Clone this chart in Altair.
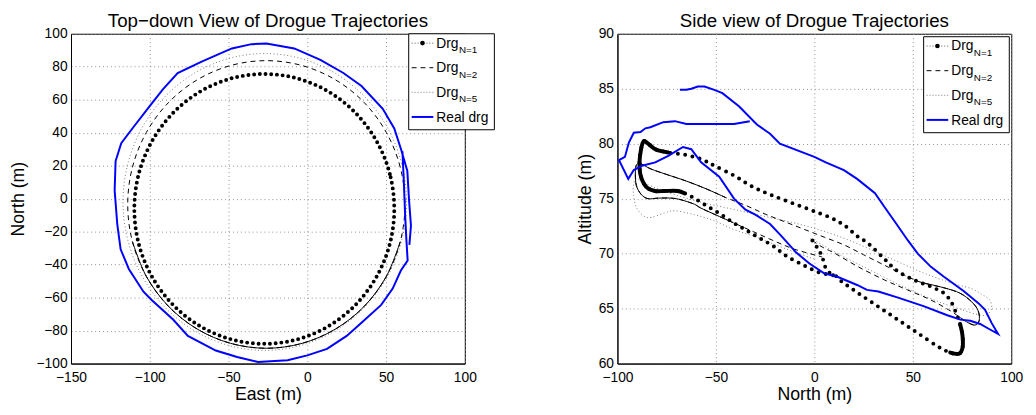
import altair as alt
import pandas as pd

# ---------------- Left panel: top-down view (East vs North) ----------------
N1_TOP_E = [55.2, 52.4, 44.1, 31.0, 14.0, -5.9, -27.3, -48.7, -68.6, -85.6, -98.7, -107.0,
            -109.8, -107.0, -98.7, -85.6, -68.6, -48.7, -27.3, -5.9, 14.0, 31.0, 44.1, 52.4]
N1_TOP_N = [-6.2, 15.0, 34.7, 51.6, 64.6, 72.8, 75.6, 72.8, 64.6, 51.6, 34.7, 15.0,
            -6.2, -27.4, -47.1, -64.0, -77.0, -85.2, -88.0, -85.2, -77.0, -64.0, -47.1, -27.4]

N2_TOP_E = [62.0, 59.0, 50.2, 36.2, 18.0, -3.2, -26.0, -48.8, -70.0, -88.2, -102.2, -111.0,
            -114.0, -111.0, -102.2, -88.2, -70.0, -48.8, -26.0, -3.2, 18.0, 36.2, 50.2, 59.0]
N2_TOP_N = [-3.5, 19.1, 40.1, 58.2, 72.0, 80.7, 83.7, 80.7, 72.0, 58.2, 40.1, 19.1,
            -3.5, -26.1, -47.1, -65.2, -79.0, -87.7, -90.7, -87.7, -79.0, -65.2, -47.1, -26.1]
N2_TOP_SOLID = (13, 24)   # part of the N=2 ring that renders as a solid line

N5_TOP_E = [63.0, 59.9, 50.9, 36.6, 18.0, -3.7, -27.0, -50.3, -72.0, -90.6, -104.9, -113.9,
            -117.0, -113.9, -104.9, -90.6, -72.0, -50.3, -27.0, -3.7, 18.0, 36.6, 50.9, 59.9]
N5_TOP_N = [-2.0, 21.3, 43.0, 61.6, 75.9, 84.9, 88.0, 84.9, 75.9, 61.6, 43.0, 21.3,
            -2.0, -25.3, -47.0, -65.6, -79.9, -88.9, -92.0, -88.9, -79.9, -65.6, -47.0, -25.3]

REAL_TOP_E = [60.4, 61.3, 62.1, 62.9, 63.7, 59.4, 54.2, 46.9, 34.4, 25.0, 12.5, 0.0, -12.5,
              -31.3, -44.6, -58.1, -75.8, -85.2, -98.8, -104.0, -113.3, -118.5, -120.6,
              -122.3, -121.7, -118.1, -110.2, -99.8, -91.7, -82.3, -66.7, -47.9, -35.4,
              -26.0, -8.3, 8.3, 22.9, 34.4, 47.9, 55.2, 59.5, 63.5, 64.6, 65.8, 64.8]
REAL_TOP_N = [28.7, 10.0, -10.0, -25.0, -37.5, -43.6, -54.5, -64.4, -75.2, -83.2, -91.1, -95.0,
              -98.0, -99.0, -96.0, -92.1, -83.2, -73.3, -61.4, -56.4, -42.6, -30.7, -15.8,
              5.0, 22.8, 33.7, 43.6, 56.4, 66.3, 76.2, 83.2, 91.1, 93.7, 94.1, 91.1, 84.2,
              76.2, 68.3, 54.5, 42.6, 30.0, 16.8, -1.0, -16.4, -28.0]

# ---------------- Right panel: side view (North vs Altitude) ----------------
N1_SIDE_N = [-1.0, 2.0, 4.0, 5.5, 7.5, 10.7, 14.0, 22.3, 32.3, 42.3, 52.3, 62.3, 69.0, 73.5,
             75.3, 75.2, 74.0, 72.0, 69.5, 65.8, 59.2, 50.8, 42.3, 35.7, 27.5, 21.7, 15.8,
             9.2, 0.0, -14.2, -24.2, -32.5, -40.8, -50.8, -57.5, -65.8, -74.2, -80.8, -85.0,
             -86.8, -88.0, -88.8, -88.2, -85.5, -81.0, -76.0, -69.5, -66.0, -61.0, -54.3,
             -47.7, -41.0, -34.3, -27.7, -21.0, -14.3, -6.0, 2.3, 10.7]
N1_SIDE_ALT = [71.2, 70.4, 69.7, 68.8, 68.3, 68.0, 67.45, 66.4, 65.2, 64.0, 62.8, 61.6, 61.0,
               60.9, 61.5, 62.6, 63.6, 64.6, 65.6, 66.4, 67.0, 67.6, 68.4, 69.5, 70.9, 71.6,
               72.5, 73.2, 73.85, 74.8, 75.5, 76.2, 77.1, 78.0, 78.6, 79.0, 79.2, 79.5, 80.1,
               80.2, 79.5, 78.3, 77.1, 76.1, 75.7, 75.7, 75.7, 75.5, 75.05, 74.3, 73.6, 72.8,
               72.1, 71.4, 70.7, 69.8, 69.0, 68.3, 68.0]
N1_SIDE_DENSE = [(12, 17), (36, 48)]   # slow parts where the markers merge into a thick line

N2_SIDE_N = [-1.0, 4.0, 10.7, 22.3, 35.7, 47.3, 59.0, 69.0, 74.0, 77.3, 81.5, 83.7, 83.2,
             80.0, 74.0, 65.7, 54.0, 44.0, 35.0, 25.0, 15.0, 5.0, -5.0, -15.0, -25.0, -35.0,
             -45.0, -55.0, -65.0, -75.0, -83.0, -88.5, -90.5, -90.9, -90.4, -88.0, -84.5,
             -79.3, -72.7, -67.7, -61.0, -57.7, -51.0, -41.0, -31.0, -21.0, -10.0, 4.0]
N2_SIDE_ALT = [71.2, 70.6, 70.0, 68.8, 67.6, 66.7, 65.8, 64.8, 64.2, 63.8, 63.5, 63.9, 64.8,
               65.6, 66.4, 66.9, 67.4, 68.2, 69.0, 69.9, 70.8, 71.5, 72.2, 72.9, 73.6, 74.4,
               75.1, 75.9, 76.6, 77.2, 77.7, 78.2, 78.0, 77.2, 76.2, 75.4, 75.0, 75.05, 75.05,
               74.9, 74.5, 74.15, 73.6, 72.8, 72.0, 71.2, 70.4, 69.7]
N2_SIDE_SOLID = [(8, 17), (26, 44)]   # parts of N=2 that render as a solid line

N5_SIDE_N = [-2.0, 5.0, 15.0, 25.0, 35.0, 45.0, 55.0, 65.0, 75.0, 82.0, 87.0, 90.0, 89.0,
             85.0, 80.0, 72.0, 62.0, 52.0, 42.0, 32.0, 22.0, 12.0, 2.0, -8.0, -18.0, -28.0,
             -38.0, -48.0, -58.0, -68.0, -78.0, -86.0, -90.3, -91.8, -91.8, -90.2, -86.5,
             -82.7, -76.0, -71.0, -61.0, -51.0, -41.0, -31.0, -21.0, -11.0, 0.0]
N5_SIDE_ALT = [71.4, 70.7, 69.7, 68.8, 67.9, 67.0, 66.2, 65.5, 64.9, 64.5, 64.4, 65.0, 65.8,
               66.3, 66.8, 67.2, 67.8, 68.5, 69.3, 70.1, 70.9, 71.6, 72.2, 72.7, 73.1, 73.5,
               73.9, 74.3, 74.7, 75.2, 75.8, 76.4, 76.8, 76.3, 75.3, 74.15, 73.4, 73.3, 73.7,
               73.9, 73.55, 73.0, 72.2, 71.6, 70.9, 70.2, 69.5]

REAL_SIDE_N = [-68.3, -65.0, -62.5, -59.2, -55.8, -50.8, -46.7, -38.3, -29.2, -22.5, -17.5,
               0.0, 5.8, 15.0, 21.7, 30.8, 35.8, 41.7, 47.5, 52.5, 59.2, 65.8, 75.8, 83.3,
               86.7, 90.0, 93.3, 89.2, 84.2, 79.2, 74.2, 67.5, 55.8, 42.5, 32.5, 26.7, 21.7,
               11.7, 5.0, -2.5, -9.2, -16.7, -22.5, -30.0, -35.0, -40.8, -48.3, -57.5, -62.5,
               -66.7, -74.2, -80.8, -87.5, -91.7, -94.5, -99.2, -98.3, -96.2, -94.2, -91.7,
               -88.3, -85.8, -83.3, -76.7, -70.8, -65.0, -40.8, -32.8]
REAL_SIDE_ALT = [84.9, 84.9, 85.0, 85.2, 85.2, 84.9, 84.6, 83.4, 81.75, 80.9, 80.0, 78.8,
                 78.3, 77.6, 76.8, 75.5, 74.2, 72.7, 71.2, 70.0, 68.8, 67.9, 66.6, 65.5, 64.9,
                 63.7, 62.7, 63.1, 63.6, 63.9, 64.0, 64.4, 65.2, 66.0, 66.55, 66.7, 67.15,
                 67.9, 68.2, 69.1, 70.1, 71.6, 72.7, 73.55, 74.0, 75.0, 77.0, 78.3, 79.5, 79.7,
                 78.9, 78.3, 78.0, 77.6, 76.8, 78.5, 78.6, 78.8, 80.1, 81.0, 81.06, 81.4, 81.5,
                 81.96, 82.05, 81.8, 81.8, 82.05]

LEGEND_MAIN = ["Drg", "Drg", "Drg", "Real drg"]
LEGEND_SUB = ["N=1", "N=2", "N=5", ""]

FONT = "Liberation Sans"
BLUE = "#0000ff"
GREY = "#7a7a7a"
W, H = 400, 335


def frame(xs, ys):
    return pd.DataFrame({"x": xs, "y": ys, "i": list(range(len(xs)))})


def make_xy(xdom, xvals, xtitle, ydom, yvals, ytitle, ytp):
    xd = alt.X("x:Q", scale=alt.Scale(domain=xdom, nice=False, zero=False),
               axis=alt.Axis(values=xvals, title=xtitle, titlePadding=1))
    yd = alt.Y("y:Q", scale=alt.Scale(domain=ydom, nice=False, zero=False),
               axis=alt.Axis(values=yvals, title=ytitle, titlePadding=ytp))
    return xd, yd


def line(df, xd, yd, **mark):
    return alt.Chart(df).mark_line(**mark).encode(x=xd, y=yd, order="i:Q")


def legend_layers(x0, y0, w=87, h=97.5):
    one = pd.DataFrame({"a": [0]})
    out = [alt.Chart(one).mark_rect(fill="white", stroke="black", strokeWidth=1).encode(
        x=alt.value(x0), x2=alt.value(x0 + w), y=alt.value(y0), y2=alt.value(y0 + h))]
    styles = [
        dict(color="#555555", strokeDash=[1, 2], strokeWidth=1),
        dict(color="black", strokeDash=[5, 4], strokeWidth=1),
        dict(color=GREY, strokeDash=[1, 2], strokeWidth=1),
        dict(color=BLUE, strokeWidth=2),
    ]
    for k in range(4):
        ry = y0 + 9.5 + 25 * k
        out.append(alt.Chart(one).mark_rule(**styles[k]).encode(
            x=alt.value(x0 + 3), x2=alt.value(x0 + 25), y=alt.value(ry)))
        if k == 0:
            out.append(alt.Chart(one).mark_circle(size=22, color="black", opacity=1).encode(
                x=alt.value(x0 + 14), y=alt.value(ry)))
        out.append(alt.Chart(one).mark_text(
            text=LEGEND_MAIN[k], align="left", baseline="alphabetic", fontSize=14,
            font=FONT, color="black").encode(
            x=alt.value(x0 + 28), y=alt.value(ry + (5 if k == 3 else 4.5))))
        if LEGEND_SUB[k]:
            out.append(alt.Chart(one).mark_text(
                text=LEGEND_SUB[k], align="left", baseline="alphabetic", fontSize=10,
                font=FONT, color="black").encode(
                x=alt.value(x0 + 51), y=alt.value(ry + 10)))
    return out


def panel_title(text):
    return alt.Title(text, fontSize=19, fontWeight="normal", font=FONT, color="black",
                     offset=-23, baseline="bottom")


# ---- left panel ----
xl, yl = make_xy([-150, 100], [-150, -100, -50, 0, 50, 100], "East (m)",
                 [-100, 100], list(range(-100, 101, 20)), "North (m)", 9)
a0, a1 = N2_TOP_SOLID
left_layers = [
    line(frame(N5_TOP_E, N5_TOP_N), xl, yl, color=GREY, strokeWidth=1,
         strokeDash=[1, 2.5], interpolate="cardinal-closed"),
    line(frame(N2_TOP_E, N2_TOP_N), xl, yl, color="black", strokeWidth=1,
         strokeDash=[5, 4], interpolate="cardinal-closed"),
    line(frame(N2_TOP_E[a0:a1], N2_TOP_N[a0:a1]), xl, yl, color="black", strokeWidth=1,
         interpolate="cardinal"),
    line(frame(N1_TOP_E, N1_TOP_N), xl, yl, color="black", strokeWidth=4,
         strokeDash=[0, 5.8], strokeCap="round", interpolate="cardinal-closed"),
    line(frame(REAL_TOP_E, REAL_TOP_N), xl, yl, color=BLUE, strokeWidth=2),
] + legend_layers(343, 0)

left = alt.layer(*left_layers).properties(
    width=W, height=H, title=panel_title("Top\u2212down View of Drogue Trajectories"))

# ---- right panel ----
xr, yr = make_xy([-100, 100], [-100, -50, 0, 50, 100], "North (m)",
                 [60, 90], [60, 65, 70, 75, 80, 85, 90], "Altitude (m)", 3.5)
right_layers = [
    line(frame(N5_SIDE_N, N5_SIDE_ALT), xr, yr, color=GREY, strokeWidth=1,
         strokeDash=[1, 2.5], interpolate="cardinal"),
    line(frame(N2_SIDE_N, N2_SIDE_ALT), xr, yr, color="black", strokeWidth=1,
         strokeDash=[5, 4], interpolate="cardinal"),
]
for s0, s1 in N2_SIDE_SOLID:
    right_layers.append(line(frame(N2_SIDE_N[s0:s1], N2_SIDE_ALT[s0:s1]), xr, yr,
                             color="black", strokeWidth=1, interpolate="cardinal"))
right_layers.append(line(frame(N1_SIDE_N, N1_SIDE_ALT), xr, yr, color="black", strokeWidth=4,
                         strokeDash=[0, 7.5], strokeCap="round", interpolate="cardinal"))
for s0, s1 in N1_SIDE_DENSE:
    right_layers.append(line(frame(N1_SIDE_N[s0:s1], N1_SIDE_ALT[s0:s1]), xr, yr,
                             color="black", strokeWidth=4, strokeCap="round",
                             interpolate="cardinal"))
right_layers.append(line(frame(REAL_SIDE_N, REAL_SIDE_ALT), xr, yr, color=BLUE, strokeWidth=2))
right_layers += legend_layers(311, 3)

right = alt.layer(*right_layers).properties(
    width=W, height=H, title=panel_title("Side view of Drogue Trajectories"))

chart = alt.hconcat(left, right, spacing=155, bounds="flush").properties(
    padding={"left": 0, "top": 0, "right": 4, "bottom": 4}
).configure_view(
    stroke="black", strokeWidth=1
).configure_axis(
    labelFont=FONT, titleFont=FONT, labelFontSize=14, titleFontSize=18,
    titleFontWeight="normal", labelColor="black", titleColor="black",
    domainColor="black", domainWidth=1, ticks=False, grid=True,
    gridColor="#8f8f8f", gridDash=[1, 3], gridWidth=1, gridOpacity=1,
    labelPadding=4, labelFlush=False
).configure_axisX(labelPadding=7)

chart.save("out.html", embed_options={"renderer": "svg", "actions": False})
